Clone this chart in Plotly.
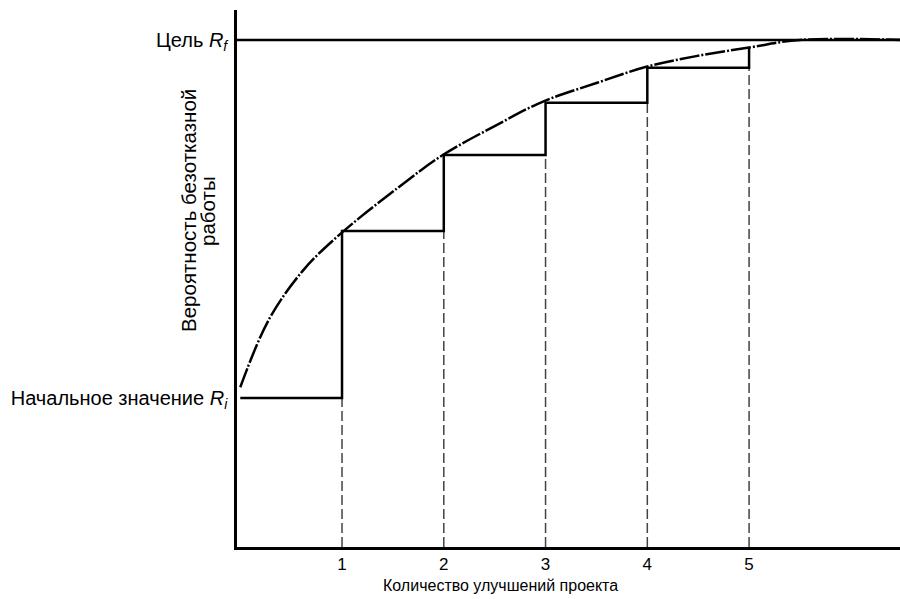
import plotly.graph_objects as go

# Data
improvements = [0, 1, 2, 3, 4, 5]
step_levels = [0.294, 0.623, 0.773, 0.876, 0.945, 0.986]   # reliability after each improvement
R_i = 0.294
R_f = 1.0
curve_x = [0, 0.28, 0.62, 0.97, 1.54, 1.99, 2.5, 2.97, 3.5, 3.99, 4.48, 5.0, 5.5, 6.5]
curve_y = [0.315, 0.448, 0.546, 0.615, 0.707, 0.773, 0.830, 0.878, 0.915, 0.947, 0.968, 0.985, 1.0, 1.0]
x_ticks = [1, 2, 3, 4, 5]
x_range = [-0.032, 6.483]
y_range = [0, 1.059]

FONT = "Liberation Sans, Arial, sans-serif"

fig = go.Figure()

# dashed verticals from axis up to the step before each improvement
for k in x_ticks:
    fig.add_trace(go.Scatter(
        x=[k, k], y=[0, step_levels[k - 1]], mode="lines",
        line=dict(color="#444444", width=1.5, dash="10px,4px"),
        hoverinfo="skip", showlegend=False))

# step line
sx, sy = [0], [step_levels[0]]
for k in x_ticks:
    sx += [k, k]
    sy += [step_levels[k - 1], step_levels[k]]
fig.add_trace(go.Scatter(x=sx, y=sy, mode="lines",
                         line=dict(color="black", width=2.5),
                         hoverinfo="skip", showlegend=False))

# target line R_f
fig.add_trace(go.Scatter(x=[x_range[0], x_range[1]], y=[R_f, R_f], mode="lines",
                         line=dict(color="black", width=2.5),
                         hoverinfo="skip", showlegend=False))

# growth curve (dash-dot)
fig.add_trace(go.Scatter(x=curve_x, y=curve_y, mode="lines",
                         line=dict(color="black", width=2.5, dash="20px,2px,2px,2px",
                                   shape="spline", smoothing=1.0),
                         hoverinfo="skip", showlegend=False))

fig.update_layout(
    width=900, height=599,
    margin=dict(l=237, r=0, t=10, b=52),
    paper_bgcolor="white", plot_bgcolor="white",
    font=dict(family=FONT, size=16, color="black"),
    xaxis=dict(range=x_range, tickvals=x_ticks, ticktext=[str(v) for v in x_ticks],
               showgrid=False, zeroline=False, showline=True, linecolor="black", linewidth=2.5,
               ticks="", tickfont=dict(size=17)),
    yaxis=dict(range=y_range, tickvals=[R_i, R_f],
               ticktext=["Начальное значение <i>R<sub>i</sub></i>", "Цель <i>R<sub>f</sub></i>"],
               showgrid=False, zeroline=False, showline=True, linecolor="black", linewidth=2.5,
               ticks="", ticklabelstandoff=3, tickfont=dict(size=20)),
    annotations=[
        dict(text="Количество улучшений проекта", xref="paper", yref="paper",
             x=(500 - 237) / 663, y=-(585 - 547) / 537, xanchor="center", yanchor="middle",
             showarrow=False, font=dict(size=16)),
        dict(text="Вероятность безотказной", xref="paper", yref="paper",
             x=(188 - 237) / 663, y=(547 - 211) / 537, xanchor="center", yanchor="middle",
             textangle=-90, showarrow=False, font=dict(size=20.5)),
        dict(text="работы", xref="paper", yref="paper",
             x=(207 - 237) / 663, y=(547 - 211) / 537, xanchor="center", yanchor="middle",
             textangle=-90, showarrow=False, font=dict(size=20.5)),
    ],
)

fig.write_html("out.html", config={"displayModeBar": False},
               post_script="document.body.style.margin='0';")
